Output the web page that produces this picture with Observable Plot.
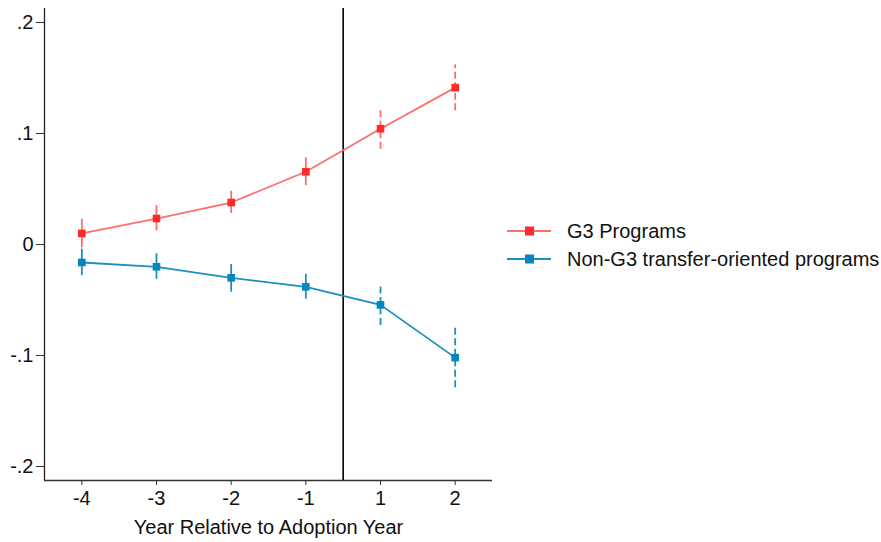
<!DOCTYPE html>
<html>
<head>
<meta charset="utf-8">
<script src="https://cdn.jsdelivr.net/npm/d3@7"></script>
<script src="https://cdn.jsdelivr.net/npm/@observablehq/plot@0.6"></script>
<style>
  html, body { margin: 0; padding: 0; background: #fff; }
  #wrap { position: relative; width: 881px; height: 542px; font-family: "Liberation Sans", Arial, Helvetica, sans-serif; }
  #legend { position: absolute; left: 507px; top: 217px; font-size: 20px; color: #111; }
  .row { display: flex; align-items: center; height: 28px; }
  .sw { width: 44px; height: 12px; margin-right: 16px; }
</style>
</head>
<body>
<div id="wrap"></div>
<script>
// Data
const years = [-4, -3, -2, -1, 1, 2];
const seriesNames = ["G3 Programs", "Non-G3 transfer-oriented programs"];
const g3Est = [0.010, 0.0234, 0.0378, 0.0655, 0.1043, 0.1413];
const g3Lo  = [-0.003, 0.0123, 0.028, 0.053, 0.0859, 0.1206];
const g3Hi  = [0.0228, 0.035, 0.048, 0.078, 0.1224, 0.162];
const nonEst = [-0.0162, -0.0201, -0.0300, -0.0381, -0.0544, -0.1019];
const nonLo  = [-0.028, -0.0313, -0.043, -0.0493, -0.073, -0.129];
const nonHi  = [-0.0042, -0.0084, -0.018, -0.0268, -0.0363, -0.0748];
const yTicks = [-0.2, -0.1, 0, 0.1, 0.2];
const yTickLabels = ["-.2", "-.1", "0", ".1", ".2"];
const xTitle = "Year Relative to Adoption Year";
const markerColors = ["#ff2a2a", "#0786bd"];
const lineColors = ["#ff6e6e", "#1a8fc2"];

const rows = [];
years.forEach((yr, i) => {
  rows.push({idx: i, year: yr, series: seriesNames[0], est: g3Est[i], lo: g3Lo[i], hi: g3Hi[i], post: yr > 0});
  rows.push({idx: i, year: yr, series: seriesNames[1], est: nonEst[i], lo: nonLo[i], hi: nonHi[i], post: yr > 0});
});
const adoptionIdx = (years.indexOf(-1) + years.indexOf(1)) / 2;
const xDomain = [-0.5, years.length - 0.5];
const yDomain = [-0.2126, 0.2126];

const plot = Plot.plot({
  width: 881,
  height: 542,
  marginLeft: 44,
  marginRight: 389,
  marginTop: 8,
  marginBottom: 62,
  style: {fontFamily: "Liberation Sans, Arial, Helvetica, sans-serif", fontSize: "20px", color: "#111", background: "#fff"},
  x: {domain: xDomain, label: null},
  y: {domain: yDomain, label: null},
  color: {domain: seriesNames, range: lineColors},
  marks: [
    Plot.ruleY([yDomain[0]], {stroke: "#333", strokeWidth: 1.3}),
    Plot.ruleX([xDomain[0]], {stroke: "#222", strokeWidth: 1.3}),
    Plot.axisY(yTicks, {tickSize: 8, tickPadding: 3, tickFormat: d => yTickLabels[yTicks.indexOf(d)], fontSize: 20, stroke: "#333", label: null}),
    Plot.axisX(years.map((d, i) => i), {tickSize: 5, tickPadding: 5, tickFormat: i => String(years[i]), fontSize: 20, stroke: "#333", label: null}),
    Plot.text([xTitle], {frameAnchor: "bottom", dy: 47, fontSize: 20, fill: "#111", lineAnchor: "middle"}),
    Plot.ruleX([adoptionIdx], {stroke: "#000", strokeWidth: 1.6}),
    // pre-adoption CIs (solid)
    Plot.ruleX(rows.filter(d => !d.post), {x: "idx", y1: "lo", y2: "hi", stroke: "series", strokeWidth: 1.8}),
    // post-adoption CIs (dashed)
    Plot.ruleX(rows.filter(d => d.post), {x: "idx", y1: "lo", y2: "hi", stroke: "series", strokeWidth: 1.8, strokeDasharray: "7,3.5"}),
    Plot.line(rows, {x: "idx", y: "est", z: "series", stroke: "series", strokeWidth: 1.8}),
    Plot.dot(rows, {x: "idx", y: "est", symbol: "square", r: 4.3, fill: d => markerColors[seriesNames.indexOf(d.series)], stroke: "none"})
  ]
});
const wrap = document.getElementById("wrap");
wrap.appendChild(plot);

// Legend
const legend = document.createElement("div");
legend.id = "legend";
seriesNames.forEach((name, i) => {
  const row = document.createElement("div");
  row.className = "row";
  const sw = document.createElementNS("http://www.w3.org/2000/svg", "svg");
  sw.setAttribute("width", 44); sw.setAttribute("height", 12);
  sw.classList.add("sw");
  sw.innerHTML = `<line x1="0" y1="6" x2="44" y2="6" stroke="${lineColors[i]}" stroke-width="2"/><rect x="18" y="1.5" width="9" height="9" fill="${markerColors[i]}"/>`;
  const t = document.createElement("span");
  t.textContent = name;
  row.appendChild(sw); row.appendChild(t);
  legend.appendChild(row);
});
wrap.appendChild(legend);
</script>
</body>
</html>
